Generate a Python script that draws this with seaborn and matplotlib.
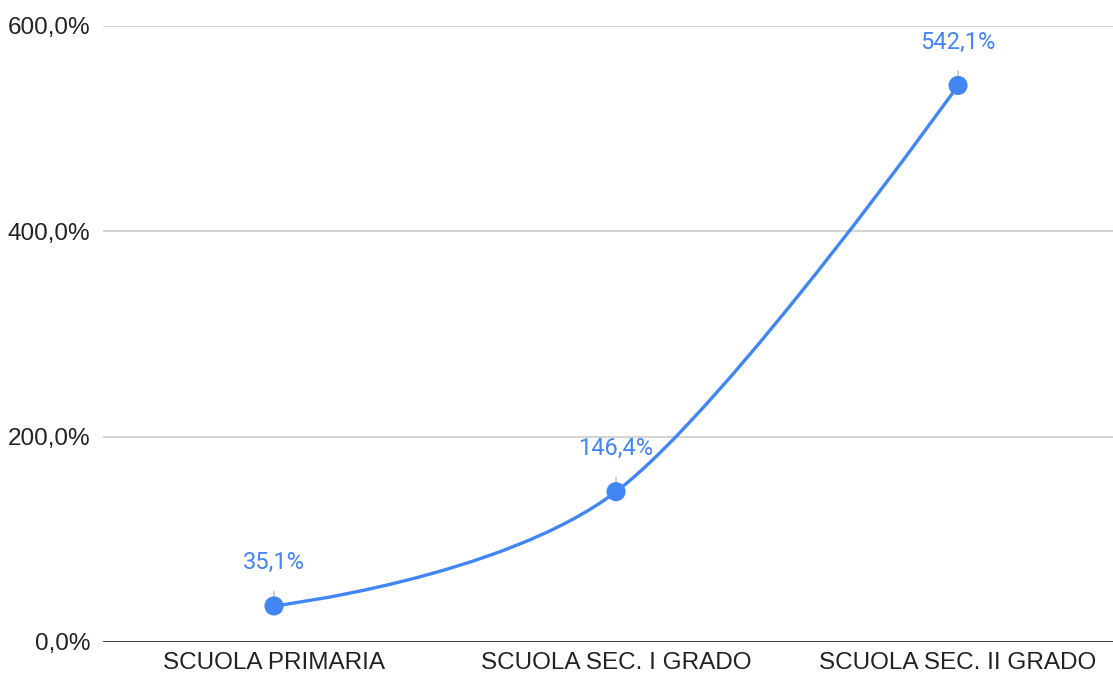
import seaborn as sns
import matplotlib.pyplot as plt
import pandas as pd
from matplotlib.path import Path
from matplotlib.patches import PathPatch
from matplotlib.ticker import FuncFormatter

categorie = ['SCUOLA PRIMARIA', 'SCUOLA SEC. I GRADO', 'SCUOLA SEC. II GRADO']
valori = [35.1, 146.4, 542.1]
etichette = ['35,1%', '146,4%', '542,1%']
tick_y = [0, 200, 400, 600]

blu = '#4285F4'

sns.set_theme(style='white')
plt.rcParams['font.family'] = ['Roboto', 'DejaVu Sans']

fig = plt.figure(figsize=(11.13, 6.75), dpi=100)
ax = fig.add_axes([0.0925, 0.0489, 0.9075, 0.9126])

df = pd.DataFrame({'x': range(len(categorie)), 'y': valori})

# curva smussata (bezier cubica) attraverso i punti, estremi senza tangente
xs = list(df['x'])
ys = list(df['y'])
n = len(xs)
verts = [(xs[0], ys[0])]
codes = [Path.MOVETO]
for i in range(n - 1):
    dx = (xs[i + 1] - xs[i]) / 3
    if i == 0:
        c1 = (xs[i], ys[i])
    else:
        t = (ys[i + 1] - ys[i - 1]) / (xs[i + 1] - xs[i - 1])
        c1 = (xs[i] + dx, ys[i] + t * dx)
    if i + 1 == n - 1:
        c2 = (xs[i + 1], ys[i + 1])
    else:
        t = (ys[i + 2] - ys[i]) / (xs[i + 2] - xs[i])
        c2 = (xs[i + 1] - dx, ys[i + 1] - t * dx)
    verts += [c1, c2, (xs[i + 1], ys[i + 1])]
    codes += [Path.CURVE4] * 3
ax.add_patch(PathPatch(Path(verts, codes), facecolor='none', edgecolor=blu,
                       lw=2.4, zorder=3, capstyle='round'))

sns.scatterplot(data=df, x='x', y='y', color=blu, s=190, edgecolor='none',
                zorder=4, ax=ax, legend=False)

for x, y, lab in zip(xs, ys, etichette):
    ax.annotate(lab, xy=(x, y), xytext=(0, 31), textcoords='offset points',
                ha='center', va='center', fontsize=17, color=blu,
                arrowprops=dict(arrowstyle='-', color='#c4c4c4', lw=1.2,
                                shrinkA=10, shrinkB=0), zorder=2)

ax.set_xlim(-0.5, 2.453)
ax.set_ylim(0, 600)
ax.set_yticks(tick_y)
ax.yaxis.set_major_formatter(FuncFormatter(lambda v, p: f'{v:.1f}'.replace('.', ',') + '%'))
ax.set_xticks(range(len(categorie)))
ax.set_xticklabels(categorie)
ax.tick_params(axis='both', length=0, labelsize=17.5, colors='#222222')
ax.tick_params(axis='x', pad=7)
ax.tick_params(axis='y', pad=9)
for lab in ax.get_xticklabels() + ax.get_yticklabels():
    lab.set_family(['Liberation Sans', 'DejaVu Sans'])
ax.set_xlabel('')
ax.set_ylabel('')

for v in tick_y[1:]:
    ax.axhline(v, color='#cccccc', lw=1.2, zorder=1)
ax.axhline(0, color='#333333', lw=1.3, zorder=1)
for s in ax.spines.values():
    s.set_visible(False)

fig.savefig('out.png', dpi=100, facecolor='white')
